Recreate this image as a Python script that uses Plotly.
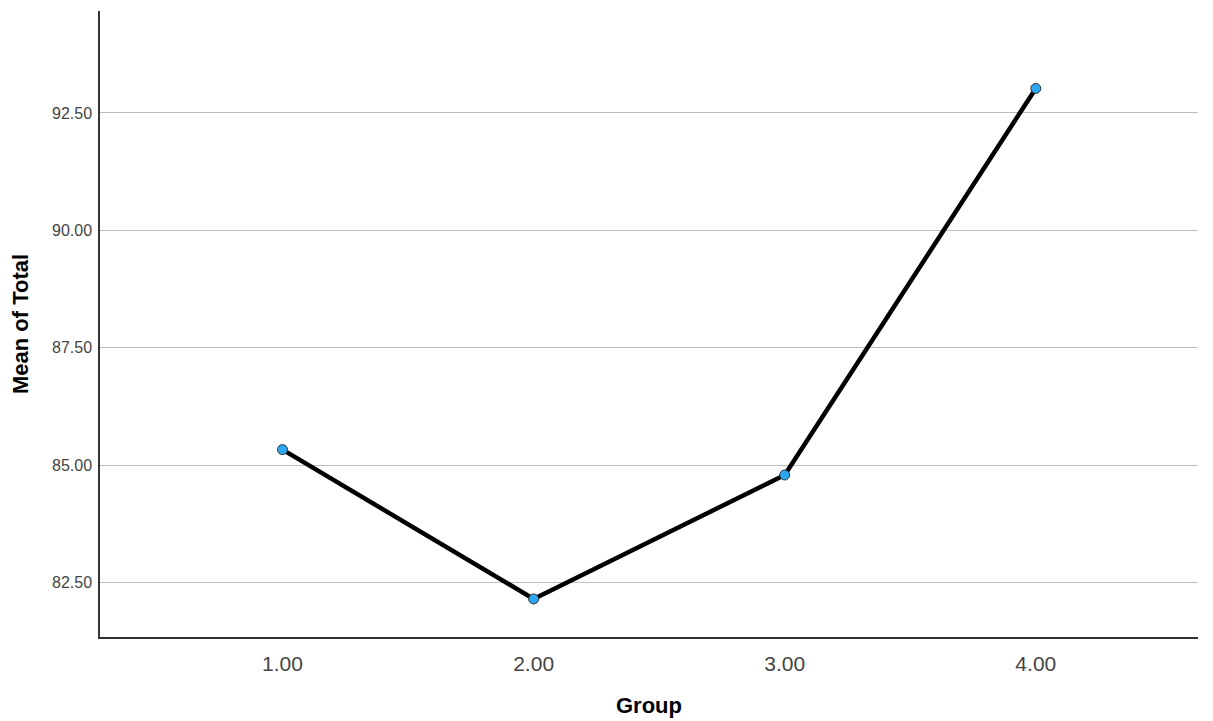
import plotly.graph_objects as go

groups = [1, 2, 3, 4]
group_labels = ["1.00", "2.00", "3.00", "4.00"]
mean_total = [85.33, 82.15, 84.79, 93.02]
y_ticks = [82.5, 85.0, 87.5, 90.0, 92.5]
y_tick_labels = ["82.50", "85.00", "87.50", "90.00", "92.50"]

fig = go.Figure()
fig.add_trace(go.Scatter(
    x=groups, y=mean_total, mode="lines+markers",
    line=dict(color="black", width=4.5),
    marker=dict(size=10, color="#2aa6f2", line=dict(color="#333333", width=1)),
    showlegend=False,
))

fig.update_layout(
    width=1205, height=713,
    margin=dict(l=92, r=15, t=3, b=84),
    plot_bgcolor="white", paper_bgcolor="white",
    font=dict(family="Liberation Sans, Arial, sans-serif", color="#333333"),
)
fig.update_xaxes(
    range=[0.273, 4.646], tickvals=groups, ticktext=group_labels,
    showgrid=False, zeroline=False,
    showline=True, linecolor="#333333", linewidth=1.5,
    ticks="", tickfont=dict(size=21, color="#444444"), ticklabelstandoff=7,
    title=dict(text="<b>Group</b>", font=dict(size=22, color="black"), standoff=24),
)
fig.update_yaxes(
    range=[81.34, 94.67], tickvals=y_ticks, ticktext=y_tick_labels,
    showgrid=True, gridcolor="#bdbdbd", gridwidth=1, zeroline=False,
    showline=True, linecolor="#333333", linewidth=1.5,
    ticks="", tickfont=dict(size=16, color="#444444"), ticklabelstandoff=3,
    title=dict(text="<b>Mean of Total</b>", font=dict(size=22, color="black"), standoff=21),
)

fig.write_html("out.html")
